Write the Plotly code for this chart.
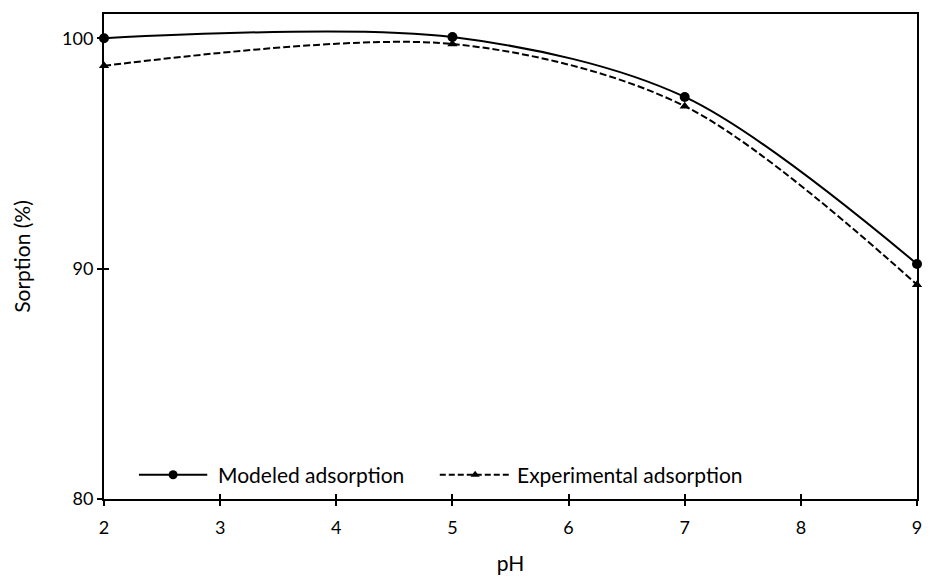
import plotly.graph_objects as go

ph = [2, 5, 7, 9]
modeled = [100.0, 100.05, 97.45, 90.2]
experimental = [98.8, 99.75, 97.05, 89.3]
x_ticks = [2, 3, 4, 5, 6, 7, 8, 9]
y_ticks = [80, 90, 100]
series_names = ["Modeled adsorp\u200ction", "Experimental adsorp\u200ction"]

FONT = "Lato"
DASH = "7px,3px"
fig = go.Figure()
fig.add_trace(go.Scatter(
    x=ph, y=modeled, name=series_names[0], mode="lines+markers",
    line=dict(color="black", width=2, shape="spline", smoothing=0.9),
    marker=dict(symbol="circle", size=10, color="black"), cliponaxis=False, showlegend=False))
fig.add_trace(go.Scatter(
    x=ph, y=experimental, name=series_names[1], mode="lines+markers",
    line=dict(color="black", width=2, dash=DASH, shape="spline", smoothing=0.9),
    marker=dict(symbol="triangle-up", size=9, color="black"), cliponaxis=False, showlegend=False))

# legend samples drawn on an overlay axis spanning the plot area (0..1)
fig.add_trace(go.Scatter(x=[0.043, 0.127], y=[0.05, 0.05], xaxis="x3", yaxis="y3", mode="lines",
                         line=dict(color="black", width=2), showlegend=False, hoverinfo="skip"))
fig.add_trace(go.Scatter(x=[0.085], y=[0.05], xaxis="x3", yaxis="y3", mode="markers",
                         marker=dict(symbol="circle", size=9, color="black"), showlegend=False, hoverinfo="skip"))
fig.add_trace(go.Scatter(x=[0.413, 0.500], y=[0.05, 0.05], xaxis="x3", yaxis="y3", mode="lines",
                         line=dict(color="black", width=2, dash="6px,3px"), showlegend=False, hoverinfo="skip"))
fig.add_trace(go.Scatter(x=[0.4565], y=[0.05], xaxis="x3", yaxis="y3", mode="markers",
                         marker=dict(symbol="triangle-up", size=8, color="black"), showlegend=False, hoverinfo="skip"))

axis_common = dict(showgrid=False, zeroline=False, linecolor="black", linewidth=2,
                   mirror=True, ticks="outside", ticklen=5, tickwidth=1.5, tickcolor="black",
                   tickfont=dict(family=FONT, size=18, color="black"))
inner = dict(showticklabels=False, ticks="inside", ticklen=5, tickwidth=1.5, tickcolor="black",
             showgrid=False, zeroline=False, showline=False)
fig.update_layout(
    width=930, height=583, plot_bgcolor="white", paper_bgcolor="white",
    margin=dict(l=104, r=8, t=14, b=84),
    font=dict(family=FONT, size=18, color="black"),
    xaxis=dict(range=[2, 9], tickvals=x_ticks, ticklabelstandoff=6,
               title=dict(text="pH", font=dict(size=21), standoff=20), **axis_common),
    yaxis=dict(range=[80, 101.05], tickvals=y_ticks,
               title=dict(text="Sorp\u200ction (%)", font=dict(size=21), standoff=26), **axis_common),
    xaxis2=dict(range=[2, 9], tickvals=x_ticks, overlaying="x", anchor="y", side="bottom", **inner),
    yaxis2=dict(range=[80, 101.05], tickvals=y_ticks, overlaying="y", anchor="x", side="left", **inner),
    xaxis3=dict(range=[0, 1], overlaying="x", anchor="y3", visible=False, fixedrange=True),
    yaxis3=dict(range=[0, 1], overlaying="y", anchor="x3", visible=False, fixedrange=True),
    showlegend=False,
    annotations=[
        dict(text=series_names[0], x=0.138, y=0.05, xref="paper", yref="paper",
             xanchor="left", yanchor="middle", showarrow=False, font=dict(family=FONT, size=21)),
        dict(text=series_names[1], x=0.506, y=0.05, xref="paper", yref="paper",
             xanchor="left", yanchor="middle", showarrow=False, font=dict(family=FONT, size=21)),
    ],
)
fig.add_trace(go.Scatter(x=[2], y=[80], xaxis="x2", yaxis="y2", mode="markers",
                         marker=dict(opacity=0), showlegend=False, hoverinfo="skip"))
fig.write_html("out.html")
